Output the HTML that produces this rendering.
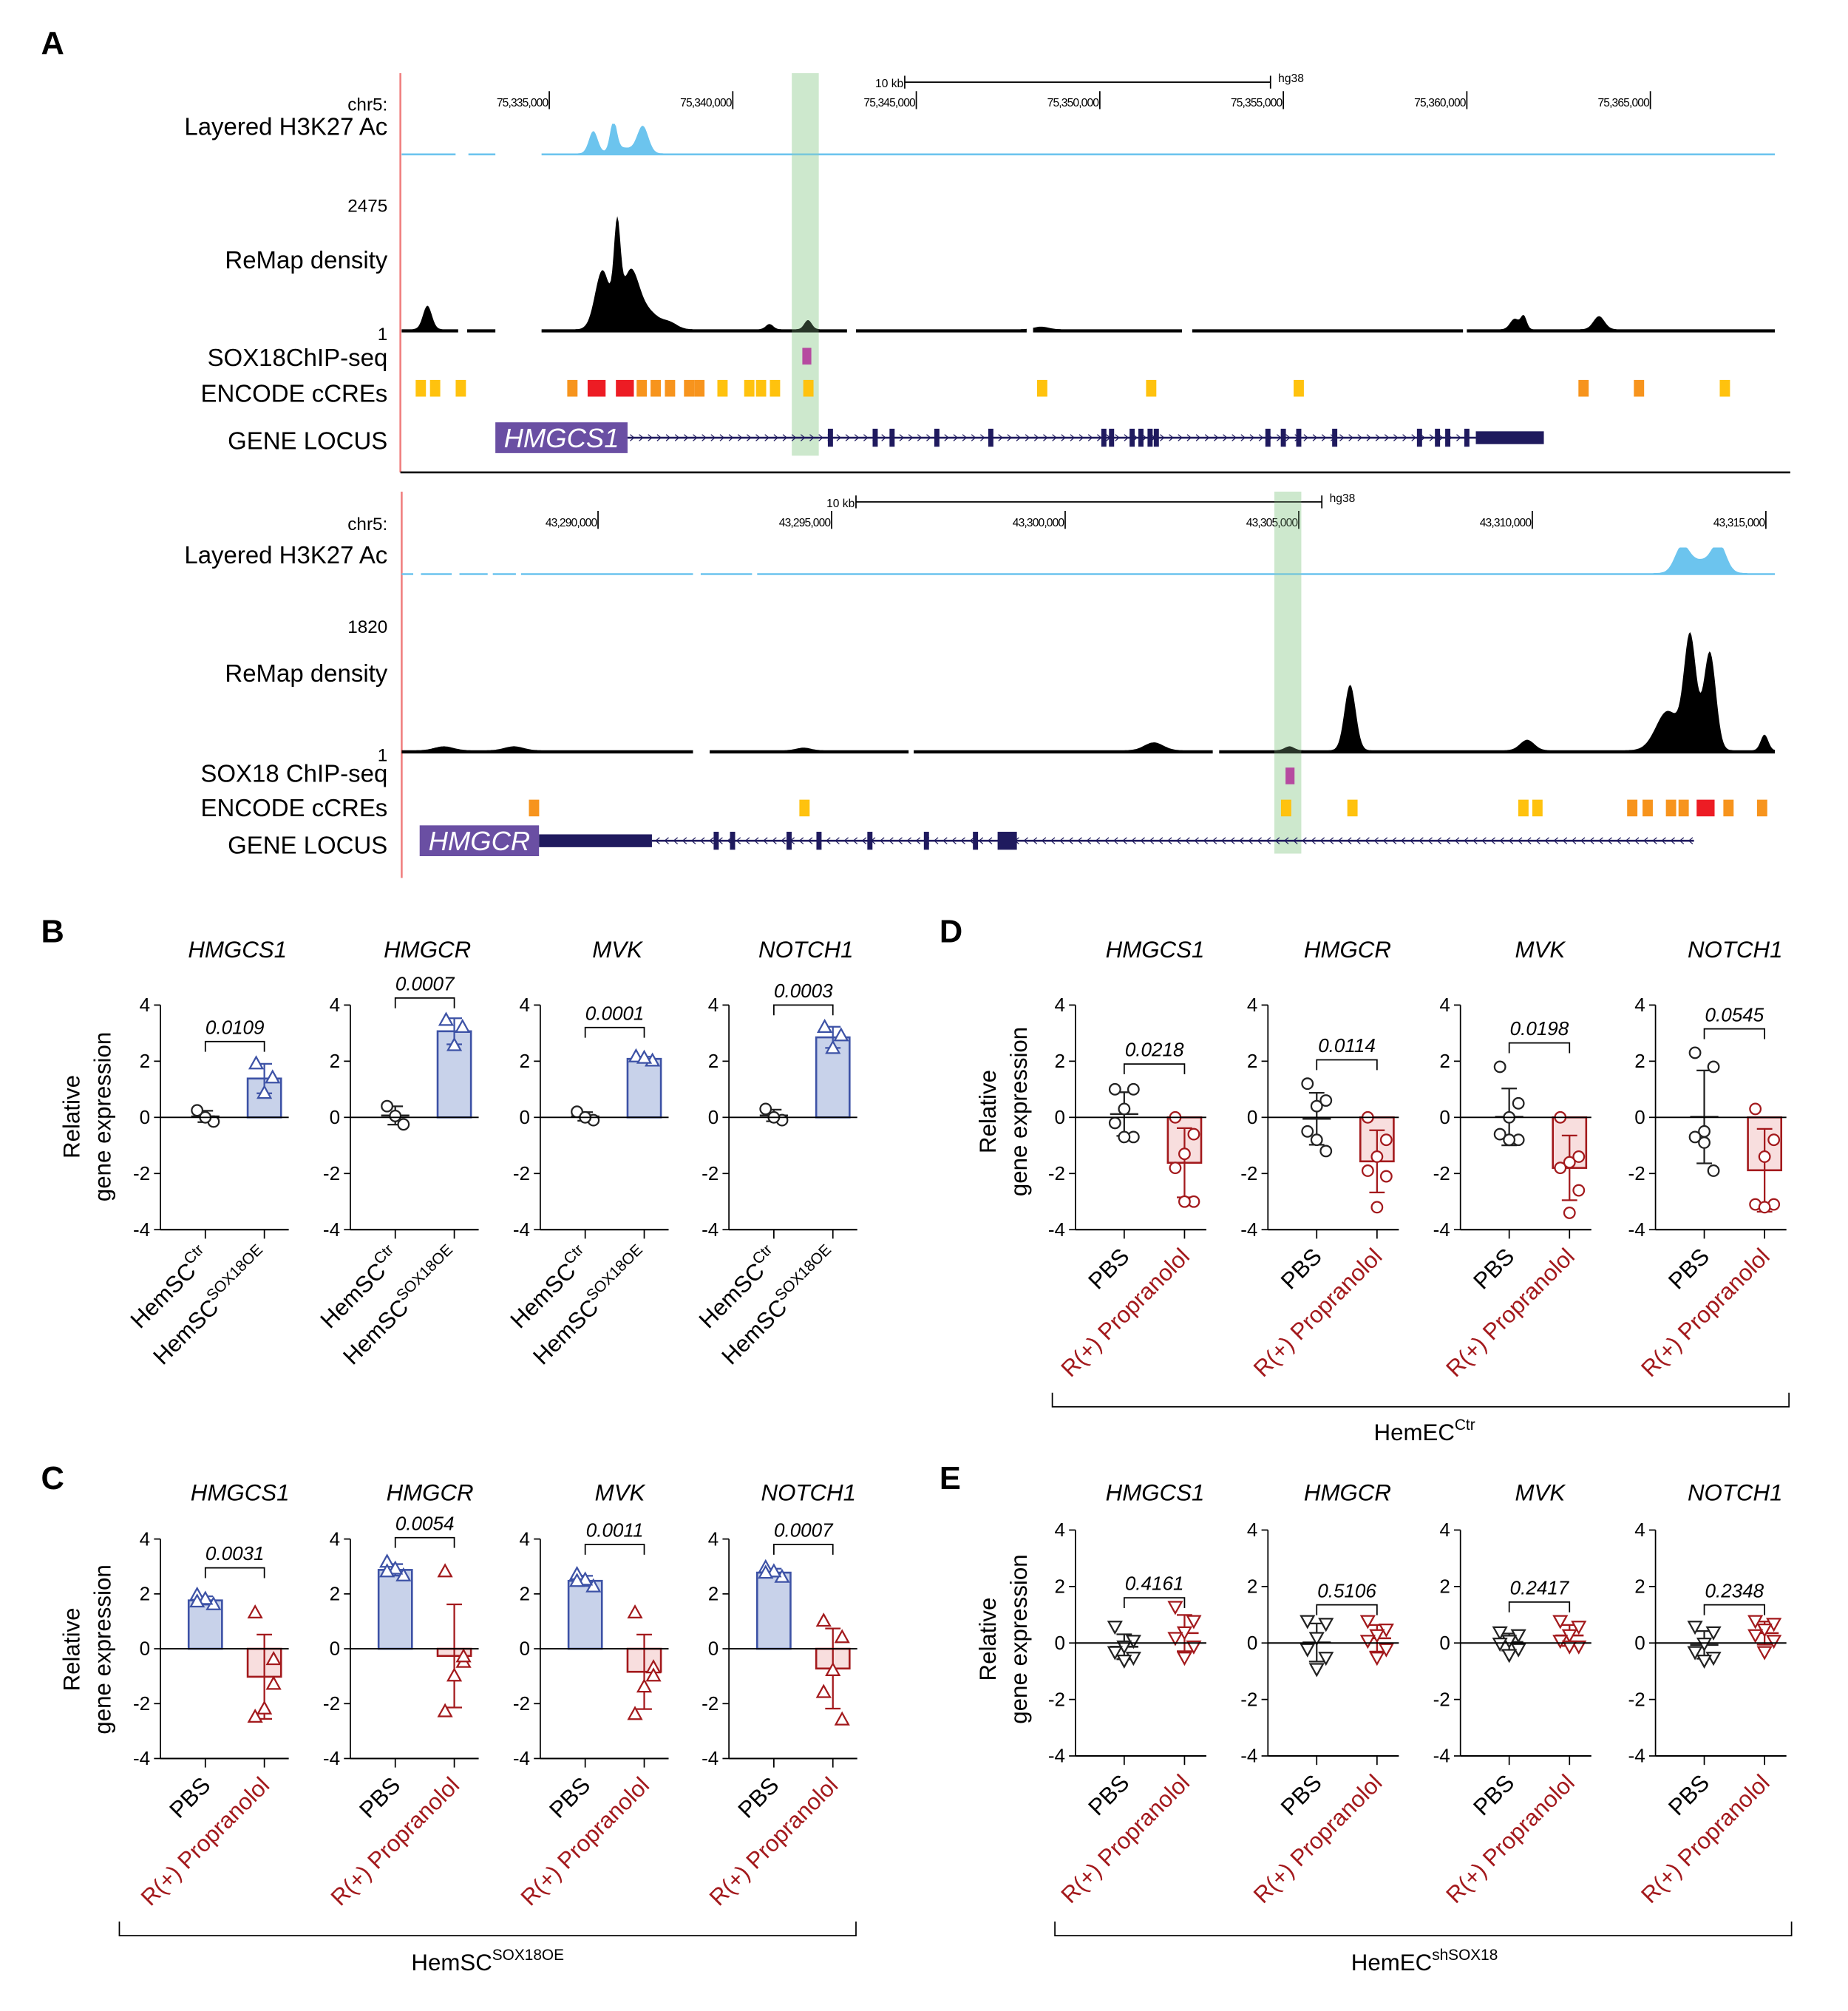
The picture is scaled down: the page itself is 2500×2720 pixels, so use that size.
<!DOCTYPE html>
<html><head><meta charset="utf-8"><style>
html,body{margin:0;padding:0;background:#fff;}
svg{display:block;font-family:"Liberation Sans",Arial,sans-serif;}
</style></head><body>
<svg id="fig" xmlns="http://www.w3.org/2000/svg" width="2500" height="2720" viewBox="0 0 1440 1566.7"></svg>
<script>
// ---------- DATA ----------
const genes = ['HMGCS1','HMGCR','MVK','NOTCH1'];
// Panel B
const bCtr = [[0.25,-0.15,0.0],[0.4,-0.25,0.05],[0.2,-0.1,0.0],[0.3,-0.1,0.0]];
const bOE  = [[1.9,1.4,0.85],[3.45,3.2,2.55],[2.15,2.0,2.1],[3.2,2.9,2.45]];
const bP = ['0.0109','0.0007','0.0001','0.0003'];
const bBracket = [2.7,4.25,3.2,4.0];
// Panel C
const cPBS = [[1.95,1.6,1.8,1.7],[3.15,2.65,2.9,2.8],[2.7,2.25,2.5,2.45],[2.95,2.6,2.8,2.75]];
const cProp = [[1.3,-0.4,-2.2,-2.5,-1.3],[2.8,-0.5,-1.0,-2.3,-0.3],[1.3,-0.7,-1.4,-2.4,-1.0],[1.0,0.4,-0.8,-1.6,-2.6]];
const cP = ['0.0031','0.0054','0.0011','0.0007'];
const cBracket = [2.95,4.05,3.8,3.8];
// Panel D
const dPBS = [[1.0,1.0,0.3,-0.2,-0.7,-0.7],[1.2,0.6,0.4,-0.5,-1.2,-0.8],[1.8,0.5,0.0,-0.6,-0.8,-0.8],[2.3,1.8,-0.5,-0.7,-1.9,-0.9]];
const dProp = [[0.0,-0.6,-1.3,-1.8,-3.0,-3.0],[0.0,-0.8,-1.4,-1.9,-2.1,-3.2],[0.0,-1.4,-1.6,-1.8,-2.6,-3.4],[0.3,-0.8,-1.4,-3.1,-3.1,-3.2]];
const dP = ['0.0218','0.0114','0.0198','0.0545'];
const dBracket = [1.9,2.05,2.65,3.15];
// Panel E
const ePBS = [[0.6,0.1,-0.1,-0.3,-0.5,-0.6],[0.8,0.7,0.2,-0.2,-0.5,-0.9],[0.4,0.3,0.1,0.0,-0.2,-0.4],[0.6,0.4,0.0,-0.3,-0.5,-0.6]];
const eProp = [[1.3,0.8,0.4,0.2,-0.1,-0.5],[0.8,0.5,0.3,0.1,-0.2,-0.5],[0.8,0.6,0.3,0.1,-0.1,-0.1],[0.8,0.7,0.5,0.3,0.1,-0.3]];
const eP = ['0.4161','0.5106','0.2417','0.2348'];
const eBracket = [1.6,1.35,1.45,1.35];
const yTicks = [4,2,0,-2,-4];
// Genome tracks (kb)
const topTickKb = [75335,75340,75345,75350,75355,75360,75365];
const botTickKb = [43290,43295,43300,43305,43310,43315];
const topRemap = [[75331.68,0.18,0.12],[75336.85,0.68,0.09],[75336.45,0.45,0.2],[75337.2,0.38,0.22],[75337.6,0.15,0.35],[75338.3,0.04,0.2],[75341.0,0.04,0.1],[75342.05,0.07,0.1],[75361.3,0.08,0.12],[75361.55,0.1,0.08],[75363.6,0.1,0.15],[75348.4,0.02,0.2]];
const topH3 = [[75336.2,0.75,0.12],[75336.75,1.0,0.09],[75337.55,0.9,0.15],[75337.0,0.2,0.3]];
const botRemap = [[43306.1,0.5,0.12],[43313.38,0.85,0.13],[43313.8,0.75,0.13],[43312.9,0.3,0.25],[43314.97,0.12,0.08],[43309.89,0.08,0.15],[43301.9,0.06,0.2],[43286.7,0.03,0.2],[43288.2,0.03,0.2],[43304.8,0.03,0.1],[43294.4,0.02,0.15]];
const botH3 = [[43313.2,0.9,0.15],[43314.0,1.0,0.15],[43313.6,0.5,0.3]];
const topCcre = [[75331.5,'y'],[75331.89,'y'],[75332.59,'y'],[75335.63,'o'],[75336.29,'r'],[75337.06,'r'],[75337.52,'o'],[75337.9,'o'],[75338.29,'o'],[75338.81,'o'],[75339.09,'o'],[75339.72,'y'],[75340.45,'y'],[75340.77,'y'],[75341.15,'y'],[75342.06,'y'],[75348.43,'y'],[75351.4,'y'],[75355.42,'y'],[75363.18,'o'],[75364.69,'o'],[75367.03,'y']];
const botCcre = [[43288.63,'o'],[43294.42,'y'],[43304.73,'y'],[43306.15,'y'],[43309.81,'y'],[43310.11,'y'],[43312.14,'o'],[43312.47,'o'],[43312.97,'o'],[43313.24,'o'],[43313.71,'r'],[43314.2,'o'],[43314.92,'o']];
const topExons = [75342.66,75343.88,75344.34,75345.56,75347.03,75350.11,75350.32,75350.88,75351.12,75351.37,75351.54,75354.58,75355.0,75355.42,75356.4,75358.71,75359.2,75359.48,75360.0];
const botExons = [43292.53,43292.88,43294.09,43294.73,43295.82,43297.03,43298.08];

// ---------- HELPERS ----------
const NS='http://www.w3.org/2000/svg';
const svg=document.getElementById('fig');
function mk(tag,attrs,parent){const e=document.createElementNS(NS,tag);for(const k in attrs)e.setAttribute(k,attrs[k]);(parent||svg).appendChild(e);return e;}
function txt(s,attrs,parent){const e=mk('text',attrs,parent);e.textContent=s;return e;}
const colMap={y:'#ffc20e',o:'#f7941d',r:'#ed1c24'};

[['A',32,42],['B',32,734],['C',32,1160],['D',732,734],['E',732,1160]].forEach(l=>{
  const t=txt(l[0],{x:l[1],y:l[2],'font-size':25,'font-weight':'bold'});
  
  
});

// ---------- PANEL A ----------
function track(cfg){
  const g=mk('g',{});
  
  
  const X=kb=>cfg.xRef+(kb-cfg.kb0)*cfg.pxkb;
  mk('line',{x1:cfg.redX,y1:cfg.yTop,x2:cfg.redX,y2:cfg.yBot,stroke:'#f08080','stroke-width':1.5},g);
  const hl=mk('rect',{x:cfg.hl[0],y:cfg.yTop,width:cfg.hl[1]-cfg.hl[0],height:cfg.hlBot-cfg.yTop,fill:'#dcefdc'},g);
  
  
  mk('line',{x1:cfg.sb[0],y1:cfg.sbY,x2:cfg.sb[1],y2:cfg.sbY,stroke:'#000','stroke-width':1},g);
  mk('line',{x1:cfg.sb[0],y1:cfg.sbY-5,x2:cfg.sb[0],y2:cfg.sbY+5,stroke:'#000'},g);
  mk('line',{x1:cfg.sb[1],y1:cfg.sbY-5,x2:cfg.sb[1],y2:cfg.sbY+5,stroke:'#000'},g);
  txt('10 kb',{x:cfg.sb[0]-1,y:cfg.sbY+4,'font-size':9,'text-anchor':'end'},g);
  txt('hg38',{x:cfg.sb[1]+6,y:cfg.sbY,'font-size':9},g);
  cfg.ticks.forEach(k=>{
    const x=X(k);
    mk('line',{x1:x,y1:cfg.tickY-12,x2:x,y2:cfg.tickY+2,stroke:'#000'},g);
    const t=txt(k.toLocaleString('en-US')+',000',{x:x-1,y:cfg.tickY,'font-size':9,'text-anchor':'end','letter-spacing':'-0.5'},g);
    
    
  });
  function signal(peaks,base,maxH,color,minH,gaps){
    let d='M'+cfg.x0+','+base;
    for(let x=cfg.x0;x<=cfg.x1;x+=1){
      const kb=cfg.kb0+(x-cfg.xRef)/cfg.pxkb;
      let v=0;peaks.forEach(p=>{v+=p[1]*Math.exp(-0.5*Math.pow((kb-p[0])/p[2],2));});
      v=Math.min(v,1);
      d+=' L'+x+','+(base-minH-v*maxH).toFixed(1);
    }
    d+=' L'+cfg.x1+','+base+' Z';
    const p=mk('path',{d:d,fill:color},g);
    gaps.forEach(gp=>mk('rect',{x:gp[0],y:base-maxH-4,width:gp[1]-gp[0],height:maxH+6,fill:'#fff'},g));
    return p;
  }
  const h3=signal(cfg.h3,cfg.h3Base,cfg.h3H,'#6cc4ee',1.5,cfg.h3Gaps);
  
  
  const rm=signal(cfg.remap,cfg.rmBase,cfg.rmH,'#000',2.5,cfg.rmGaps);
  
  
  mk('rect',{x:cfg.hl[0],y:cfg.yTop,width:cfg.hl[1]-cfg.hl[0],height:cfg.hlBot-cfg.yTop,fill:'#9fd49f','fill-opacity':0.25},g);
  const ch=mk('rect',{x:X(cfg.chip)-3,y:cfg.chipY,width:7,height:13,fill:'#b64aa0'},g);
  
  
  cfg.ccre.forEach(c=>{
    const w=c[1]==='r'?14:8;
    const r=mk('rect',{x:X(c[0])-w/2,y:cfg.ccreY,width:w,height:13,fill:colMap[c[1]]},g);
    
    
  });
  const gy=cfg.geneY;
  mk('line',{x1:cfg.lineX[0],y1:gy,x2:cfg.lineX[1],y2:gy,stroke:'#1f1a5e','stroke-width':1.5},g);
  for(let x=cfg.lineX[0]+4;x<cfg.lineX[1];x+=7){
    const s=cfg.dir;
    mk('path',{d:`M${x-2*s},${gy-2.5} L${x+s},${gy} L${x-2*s},${gy+2.5}`,fill:'none',stroke:'#1f1a5e','stroke-width':0.7},g);
  }
  mk('rect',{x:cfg.thick[0],y:gy-5,width:cfg.thick[1]-cfg.thick[0],height:10,fill:'#1f1a5e'},g);
  cfg.exons.forEach((k,i)=>{
    const w=(cfg.wide&&i===cfg.wide)?15:4;
    const r=mk('rect',{x:X(k)-w/2,y:gy-7,width:w,height:14,fill:'#1f1a5e'},g);
    
    
  });
  const bx=mk('rect',{x:cfg.box[0],y:gy-12,width:cfg.box[1]-cfg.box[0],height:24,fill:'#6a4fa3'},g);
  
  
  txt(cfg.gene,{x:(cfg.box[0]+cfg.box[1])/2,y:gy+7.5,'font-size':21,'font-style':'italic',fill:'#fff','text-anchor':'middle'},g);
  cfg.labels.forEach(l=>{const t=txt(l[0],{x:302,y:l[1],'font-size':l[2]||19,'text-anchor':'end'},g);
    
    });
}
track({name:'genome-track-hmgcs1',x0:313,x1:1383,xRef:428,kb0:75335,pxkb:28.6,redX:312,yTop:57,yBot:368,hl:[617,638],hlBot:355,
  sb:[705,990],sbY:64,ticks:topTickKb,tickY:83,
  h3:topH3,h3Base:121,h3H:23,h3Gaps:[[355,365],[386,422]],
  remap:topRemap,rmBase:259,rmH:102,rmGaps:[[357,364],[386,422],[660,667],[800,805],[921,929],[1140,1143]],
  chip:75342.0,chipY:271,ccre:topCcre,ccreY:296,geneY:341,lineX:[489,1150],dir:1,thick:[1150,1203],exons:topExons,
  box:[386,489],gene:'HMGCS1',
  labels:[['chr5:',86,14],['Layered H3K27 Ac',105],['2475',165,14],['ReMap density',209],['1',265,14],['SOX18ChIP-seq',285],['ENCODE cCREs',313],['GENE LOCUS',350]]});
mk('line',{x1:312,y1:368,x2:1395,y2:368,stroke:'#000','stroke-width':1.5});
track({name:'genome-track-hmgcr',x0:313,x1:1383,xRef:466,kb0:43290,pxkb:36.4,redX:313,yTop:383,yBot:684,hl:[993,1014],hlBot:665,
  sb:[667,1030],sbY:391,ticks:botTickKb,tickY:410,
  h3:botH3,h3Base:448,h3H:20,h3Gaps:[[322,328],[352,358],[380,384],[402,406],[540,546],[586,590]],
  remap:botRemap,rmBase:587,rmH:102,rmGaps:[[540,553],[708,712],[945,950]],
  chip:43304.8,chipY:598,ccre:botCcre,ccreY:623,geneY:655,lineX:[508,1320],dir:-1,thick:[420,508],exons:botExons.concat([43298.76]),wide:7,
  box:[327,420],gene:'HMGCR',
  labels:[['chr5:',413,14],['Layered H3K27 Ac',439],['1820',493,14],['ReMap density',531],['1',593,14],['SOX18 ChIP-seq',609],['ENCODE cCREs',636],['GENE LOCUS',665]]});

// ---------- BAR / DOT PANELS ----------
function mean(a){return a.reduce((s,v)=>s+v,0)/a.length;}
function sd(a){const m=mean(a);return Math.sqrt(a.reduce((s,v)=>s+(v-m)*(v-m),0)/(a.length-1));}
const jit=[-8,8,0,-8,8,0];
function subplot(o){
  const g=mk('g',{});
  
  
  const ppu=(o.yBot-o.yTop)/8, y0=o.yTop+4*ppu;
  const Y=v=>y0-v*ppu;
  const xs=[o.ax+o.c1,o.ax+o.c2];
  const ya=mk('line',{x1:o.ax,y1:Y(4),x2:o.ax,y2:Y(-4),stroke:'#000','stroke-width':1},g);
  
  
  yTicks.forEach(t=>{
    mk('line',{x1:o.ax-5,y1:Y(t),x2:o.ax,y2:Y(t),stroke:'#000'},g);
    const tl=txt(String(t),{x:o.ax-8,y:Y(t)+5,'font-size':15,'text-anchor':'end'},g);
    
    
  });
  const xa=mk('line',{x1:o.ax,y1:Y(-4),x2:o.ax+o.w,y2:Y(-4),stroke:'#000','stroke-width':1.2},g);
  
  
  xs.forEach(x=>mk('line',{x1:x,y1:Y(-4),x2:x,y2:Y(-4)+7,stroke:'#000'},g));
  [[o.g1,o.s1],[o.g2,o.s2]].forEach((gp,i)=>{
    const vals=gp[0],st=gp[1],x=xs[i],m=mean(vals),s=sd(vals);
    if(st.bar){
      const b=mk('rect',{x:x-13,y:Math.min(Y(m),Y(0)),width:26,height:Math.abs(Y(m)-Y(0)),fill:st.fill,stroke:st.col,'stroke-width':1.5},g);
      
      
    } else {
      const ml=mk('line',{x1:x-11,y1:Y(m),x2:x+11,y2:Y(m),stroke:st.col,'stroke-width':1.5},g);
      
      
    }
    const eb=mk('path',{d:`M${x},${Y(m-s)} L${x},${Y(m+s)} M${x-6},${Y(m+s)} L${x+6},${Y(m+s)} M${x-6},${Y(m-s)} L${x+6},${Y(m-s)}`,stroke:st.col,'stroke-width':1.3,fill:'none'},g);
    
    
    vals.forEach((v,j)=>{
      const px=x+jit[j%jit.length]*(vals.length>4?0.9:0.8), py=Y(v);
      let p;
      if(st.shape==='circle') p=mk('circle',{cx:px,cy:py,r:4.2,fill:'#fff',stroke:st.col,'stroke-width':1.3},g);
      else if(st.shape==='tri') p=mk('path',{d:`M${px},${py-5.5} L${px+5},${py+3.5} L${px-5},${py+3.5} Z`,fill:'#fff',stroke:st.col,'stroke-width':1.3},g);
      else p=mk('path',{d:`M${px},${py+5.5} L${px+5},${py-3.5} L${px-5},${py-3.5} Z`,fill:'#fff',stroke:st.col,'stroke-width':1.3},g);
      
      
    });
  });
  const zl=mk('line',{x1:o.ax,y1:Y(0),x2:o.ax+o.w,y2:Y(0),stroke:'#000','stroke-width':1.1},g);
  
  
  const by=Y(o.br);
  const br=mk('path',{d:`M${xs[0]},${by+8} L${xs[0]},${by} L${xs[1]},${by} L${xs[1]},${by+8}`,fill:'none',stroke:'#000','stroke-width':1},g);
  
  
  const pv=txt(o.p,{x:(xs[0]+xs[1])/2,y:by-6,'font-size':15,'font-style':'italic','text-anchor':'middle'},g);
  
  
  const ti=txt(o.gene,{x:o.ax+o.tx,y:o.ty,'font-size':18,'font-style':'italic','text-anchor':'middle'},g);
  
  
  o.xl.forEach((l,i)=>{
    const lx=xs[i]+5, ly=Y(-4)+22;
    const t=mk('text',{x:lx,y:ly,'font-size':18,'text-anchor':'end',fill:l.col,transform:`rotate(-45 ${lx} ${ly})`},g);
    
    
    const a=mk('tspan',{},t);a.textContent=l.t;
    if(l.sup){const b=mk('tspan',{'font-size':12,dy:-8},t);b.textContent=l.sup;}
  });
}
const blue={col:'#3d52a6',fill:'#c8d2ea',bar:true};
const red={col:'#a3191c',fill:'#f8dede',bar:true};
const bAx=[125,273,421,568], dAx=[838,988,1138,1290];
const sc=[{t:'HemSC',sup:'Ctr',col:'#000'},{t:'HemSC',sup:'SOX18OE',col:'#000'}];
const pp=[{t:'PBS',col:'#000'},{t:'R(+) Propranolol',col:'#a3191c'}];
genes.forEach((gn,i)=>{
  subplot({name:'panel-b-'+gn.toLowerCase(),gene:gn,ax:bAx[i],yTop:783,yBot:958,c1:35,c2:81,w:100,g1:bCtr[i],g2:bOE[i],
    s1:{col:'#222',shape:'circle',key:'ctr'},s2:Object.assign({shape:'tri',key:'oe'},blue),br:bBracket[i],p:bP[i],tx:60,ty:746,xl:sc});
  subplot({name:'panel-c-'+gn.toLowerCase(),gene:gn,ax:bAx[i],yTop:1199,yBot:1370,c1:35,c2:81,w:100,g1:cPBS[i],g2:cProp[i],
    s1:Object.assign({shape:'tri',key:'pbs'},blue),s2:Object.assign({shape:'tri',key:'prop'},red),br:cBracket[i],p:cP[i],tx:62,ty:1169,xl:pp});
  subplot({name:'panel-d-'+gn.toLowerCase(),gene:gn,ax:dAx[i],yTop:783,yBot:958,c1:38,c2:85,w:102,g1:dPBS[i],g2:dProp[i],
    s1:{col:'#222',shape:'circle',key:'pbs'},s2:Object.assign({shape:'circle',key:'prop'},red),br:dBracket[i],p:dP[i],tx:62,ty:746,xl:pp});
  subplot({name:'panel-e-'+gn.toLowerCase(),gene:gn,ax:dAx[i],yTop:1192,yBot:1368,c1:38,c2:85,w:102,g1:ePBS[i],g2:eProp[i],
    s1:{col:'#222',shape:'dtri',key:'pbs'},s2:{col:'#a3191c',shape:'dtri',key:'prop'},br:eBracket[i],p:eP[i],tx:62,ty:1169,xl:pp});
});
[[62,86,870],[62,86,1285],[776,800,866],[776,800,1277]].forEach((c,i)=>{
  const t1=txt('Relative',{x:c[0],y:c[2],'font-size':18,'text-anchor':'middle',transform:`rotate(-90 ${c[0]} ${c[2]})`});
  
  
  const t2=txt('gene expression',{x:c[1],y:c[2],'font-size':18,'text-anchor':'middle',transform:`rotate(-90 ${c[1]} ${c[2]})`});
  
  
});
[[93,667,1497,'HemSC','SOX18OE',380,1535],[820,1394,1085,'HemEC','Ctr',1110,1122],[822,1396,1497,'HemEC','shSOX18',1110,1535]].forEach(b=>{
  const p=mk('path',{d:`M${b[0]},${b[2]} L${b[0]},${b[2]+11} L${b[1]},${b[2]+11} L${b[1]},${b[2]}`,fill:'none',stroke:'#000','stroke-width':1});
  
  
  const t=mk('text',{x:b[5],y:b[6],'font-size':18,'text-anchor':'middle'});
  
  
  const a=mk('tspan',{},t);a.textContent=b[3];
  const s=mk('tspan',{'font-size':12,dy:-8},t);s.textContent=b[4];
});
</script>
</body></html>
